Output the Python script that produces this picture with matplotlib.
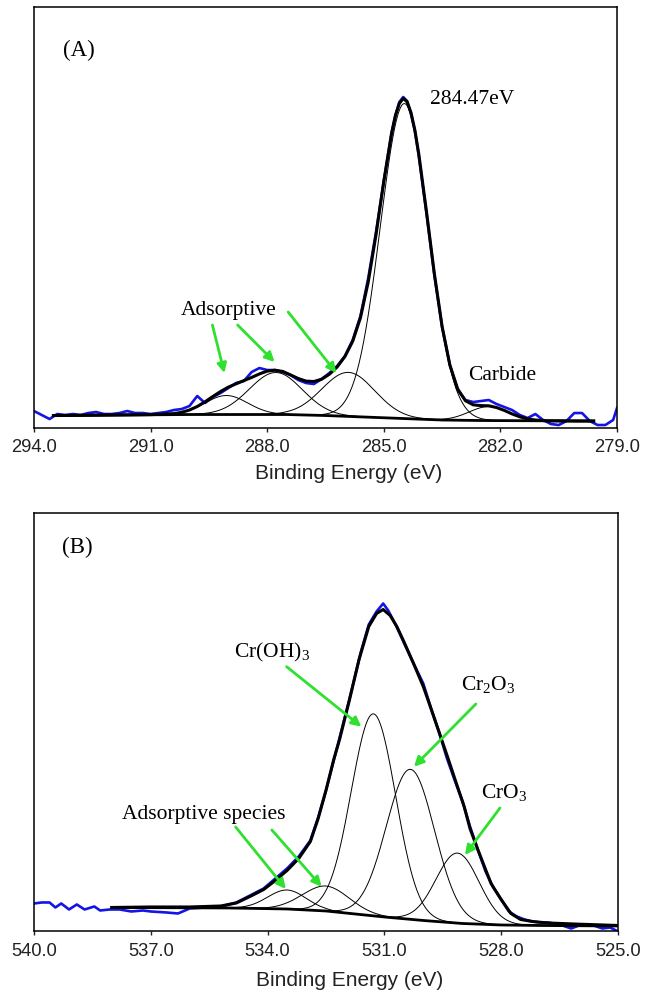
import numpy as np
import matplotlib
matplotlib.use('Agg')
import matplotlib.pyplot as plt
from matplotlib.ticker import FormatStrFormatter

plt.rcParams['font.family'] = 'Liberation Sans'
SERIF = 'Liberation Serif'

# ---------------- (A) C 1s ----------------
a_raw_be = [294.0, 293.8, 293.6, 293.4, 293.2, 293.0, 292.8, 292.6, 292.4, 292.2,
            292.0, 291.8, 291.6, 291.4, 291.2, 291.0, 290.8, 290.6, 290.4, 290.2,
            290.0, 289.8, 289.6, 289.4, 289.2, 289.0, 288.8, 288.6, 288.4, 288.2,
            288.0, 287.8, 287.6, 287.4, 287.2, 287.0, 286.8, 286.6, 286.4, 286.2,
            286.0, 285.8, 285.6, 285.4, 285.2, 285.0, 284.8, 284.7, 284.6, 284.5,
            284.4, 284.3, 284.2, 284.1, 283.9, 283.7, 283.5, 283.3, 283.1, 282.9,
            282.7, 282.5, 282.3, 282.1, 281.9, 281.7, 281.5, 281.3, 281.1, 280.9,
            280.7, 280.5, 280.3, 280.1, 279.9, 279.7, 279.5, 279.3, 279.1, 279.0]
a_raw_cps = [17, 13, 9, 14, 13, 14, 13, 15, 16, 14,
             14, 15, 17, 15, 15, 14, 15, 16, 18, 19,
             22, 32, 25, 31, 35, 40, 45, 47, 56, 60,
             58, 58, 56, 53, 48, 45, 44, 49, 55, 62,
             72, 88, 112, 150, 196, 247, 295, 313, 326, 331,
             327, 314, 297, 272, 214, 153, 101, 63, 38, 28,
             26, 27, 28, 24, 21, 18, 13, 10, 14, 8,
             4, 3, 7, 15, 15, 7, 3, 3, 8, 20]

a_env_be = [293.5, 293.0, 292.0, 291.0, 290.6, 290.4, 290.2, 290.0, 289.8, 289.6,
            289.4, 289.2, 289.0, 288.8, 288.6, 288.4, 288.2, 288.0, 287.8, 287.6,
            287.4, 287.2, 287.0, 286.8, 286.6, 286.4, 286.2, 286.0, 285.8, 285.6,
            285.4, 285.2, 285.0, 284.8, 284.7, 284.6, 284.5, 284.4, 284.3, 284.2,
            284.1, 283.9, 283.7, 283.5, 283.3, 283.1, 282.9, 282.7, 282.5, 282.3,
            282.1, 281.9, 281.7, 281.5, 281.3, 281.1, 280.8, 280.0, 279.6]
a_env_cps = [12.5, 12.6, 13.0, 13.4, 14.0, 14.4, 15.7, 18.0, 21.5, 26.2,
             31.5, 36.5, 40.9, 44.2, 47.4, 50.6, 54.1, 56.9, 57.8, 56.6,
             53.1, 49.5, 46.9, 46.5, 48.8, 53.8, 61.1, 71.5, 86.8, 110.4,
             146.2, 193.4, 246.7, 294.8, 312.6, 324.6, 329.6, 326.2, 315.4, 297.7,
             274.1, 215.8, 154.5, 101.5, 62.9, 39.1, 27.3, 23.2, 22.4, 22.2,
             20.5, 17.6, 14.1, 11.2, 9.1, 8.0, 7.2, 7.0, 7.0]

a_bg_be = [293.5, 290.0, 287.5, 286.5, 285.5, 284.5, 283.5, 282.5, 279.6]
a_bg_cps = [12.5, 13.5, 13.5, 12.5, 11.0, 9.5, 8.0, 7.5, 7.0]

# fitted components: position (eV), height above background, gaussian sigma
a_peak_pos = [284.47, 285.91, 287.78, 289.05, 282.3]
a_peak_height = [315, 44, 42, 19, 14]
a_peak_sigma = [0.62, 0.68, 0.68, 0.55, 0.5]

# ---------------- (B) O 1s ----------------
b_raw_be = [540.0, 539.8, 539.6, 539.45, 539.3, 539.1, 538.9, 538.7, 538.45, 538.3,
            538.05, 537.8, 537.5, 537.2, 537.0, 536.6, 536.3, 536.0, 535.6, 535.2,
            534.8, 534.4, 534.1, 533.8, 533.5, 533.2, 532.9, 532.7, 532.5, 532.2,
            531.9, 531.6, 531.4, 531.2, 531.03, 530.9, 530.7, 530.5, 530.25, 530.0,
            529.8, 529.6, 529.4, 529.2, 529.0, 528.8, 528.6, 528.4, 528.2, 528.0,
            527.8, 527.6, 527.4, 527.2, 527.0, 526.8, 526.5, 526.2, 526.0, 525.7,
            525.4, 525.2, 525.0]
b_raw_cps = [28, 29, 29, 24, 28, 22, 27, 22, 25, 21,
             22, 22, 20, 21, 20, 19, 18, 23, 24, 25,
             29, 37, 43, 53, 63, 75, 91, 114, 141, 186,
             232, 280, 307, 320, 328, 321, 306, 289, 268, 248,
             223, 200, 174, 152, 131, 105, 82, 60, 44, 32,
             20, 15, 12, 10, 9, 9, 7, 3, 6, 7,
             3, 4, 0]

b_env_be = [538.0, 537.0, 536.0, 535.2, 534.8, 534.4, 534.1, 533.8, 533.5, 533.2,
            532.9, 532.7, 532.5, 532.3, 532.15, 531.9, 531.65, 531.4, 531.2, 531.03,
            530.85, 530.68, 530.5, 530.25, 530.0, 529.82, 529.6, 529.38, 529.15, 528.95,
            528.8, 528.6, 528.4, 528.26, 528.0, 527.75, 527.5, 527.2, 526.8, 526.0, 525.0]
b_env_cps = [24, 24.5, 24.5, 25.5, 28.5, 36, 42, 51, 61, 73,
             90, 113, 141, 172, 192, 231, 272, 305, 318, 322,
             316, 305, 290, 268, 245, 225, 200, 175, 148, 125,
             103, 82, 62, 48, 32, 18, 12, 10, 8.5, 7.3, 6.0]

b_bg_be = [538.0, 535.0, 533.5, 532.5, 531.5, 531.0, 530.0, 529.0, 528.0, 527.0, 525.0]
b_bg_cps = [24.0, 23.5, 22.5, 20.5, 16.5, 14.5, 11.0, 8.0, 6.5, 6.0, 5.5]

b_peak_pos = [533.5, 532.5, 531.28, 530.33, 529.12]
b_peak_height = [19, 25, 202, 150, 70]
b_peak_sigma = [0.5, 0.6, 0.57, 0.62, 0.55]

GREEN = '#2fe02f'
BLUE = '#1414e6'
LABEL_FS = 15.5


def draw_panel(ax, raw_be, raw_cps, env_be, env_cps, bg_be, bg_cps,
               pos, height, sigma, xlim, ylim):
    ax.plot(raw_be, raw_cps, color=BLUE, lw=1.9, zorder=2)
    bg_x = np.array(bg_be)[::-1]
    bg_y = np.array(bg_cps)[::-1]
    for p, h, s in zip(pos, height, sigma):
        e = np.linspace(p - 3.6 * s, p + 3.6 * s, 300)
        comp = h * np.exp(-(e - p) ** 2 / (2 * s ** 2))
        base = np.interp(e, bg_x, bg_y)
        ax.plot(e, comp + base, color='black', lw=0.7, zorder=3)
    ax.plot(bg_be, bg_cps, color='black', lw=2.0, zorder=4)
    ax.plot(env_be, env_cps, color='black', lw=2.2, zorder=5)

    ax.set_xlim(*xlim)
    ax.set_ylim(*ylim)
    ax.set_xticks(np.arange(xlim[0], xlim[1] - 0.1, -3.0))
    ax.xaxis.set_major_formatter(FormatStrFormatter('%.1f'))
    ax.set_yticks([])
    ax.tick_params(axis='x', direction='out', length=3, width=1,
                   labelsize=13.2, pad=5, colors='#222222')
    for sp in ax.spines.values():
        sp.set_linewidth(1.1)
    ax.set_xlabel('Binding Energy (eV)', fontsize=15, color='#222222')
    ax.xaxis.label.set_va('center')


def arrow(ax, tail, head):
    ax.annotate('', xy=head, xytext=tail,
                arrowprops=dict(arrowstyle='-|>', color=GREEN, lw=2.0,
                                mutation_scale=14, shrinkA=0, shrinkB=0),
                zorder=6)


fig = plt.figure(figsize=(6.51, 9.94), dpi=100)

axA = fig.add_axes([0.0522, 0.5694, 0.8956, 0.4235])
draw_panel(axA, a_raw_be, a_raw_cps, a_env_be, a_env_cps, a_bg_be, a_bg_cps,
           a_peak_pos, a_peak_height, a_peak_sigma, (294.0, 279.0), (0, 421))
axA.xaxis.set_label_coords(0.54, -0.107)

axA.text(293.25, 378, '(A)', fontsize=16.5, family=SERIF, va='center')
axA.text(283.81, 329, '284.47eV', fontsize=LABEL_FS, family=SERIF, va='center')
axA.text(290.22, 118, 'Adsorptive', fontsize=LABEL_FS, family=SERIF, va='center')
axA.text(282.83, 53, 'Carbide', fontsize=LABEL_FS, family=SERIF, va='center')
arrow(axA, (289.41, 103), (289.10, 55))
arrow(axA, (288.76, 103), (287.81, 66))
arrow(axA, (287.46, 116), (286.22, 55))

axB = fig.add_axes([0.0522, 0.0629, 0.897, 0.421])
draw_panel(axB, b_raw_be, b_raw_cps, b_env_be, b_env_cps, b_bg_be, b_bg_cps,
           b_peak_pos, b_peak_height, b_peak_sigma, (540.0, 525.0), (0, 418.5))
axB.xaxis.set_label_coords(0.54, -0.116)

axB.text(539.28, 384.5, '(B)', fontsize=16.5, family=SERIF, va='center')
axB.text(534.85, 279.5, r'Cr(OH)$_\mathregular{3}$', fontsize=LABEL_FS, family=SERIF, va='center')
axB.text(529.04, 246.5, r'Cr$_\mathregular{2}$O$_\mathregular{3}$', fontsize=LABEL_FS, family=SERIF, va='center')
axB.text(528.52, 138.5, r'CrO$_\mathregular{3}$', fontsize=LABEL_FS, family=SERIF, va='center')
axB.text(537.73, 116.5, 'Adsorptive species', fontsize=LABEL_FS, family=SERIF, va='center')
arrow(axB, (533.51, 264.8), (531.59, 204.8))
arrow(axB, (528.65, 227.5), (530.24, 164.8))
arrow(axB, (528.03, 123.5), (528.93, 76.5))
arrow(axB, (534.82, 104.5), (533.53, 42.5))
arrow(axB, (533.89, 101.5), (532.61, 44.8))

fig.savefig('out.png', dpi=100, facecolor='white')
